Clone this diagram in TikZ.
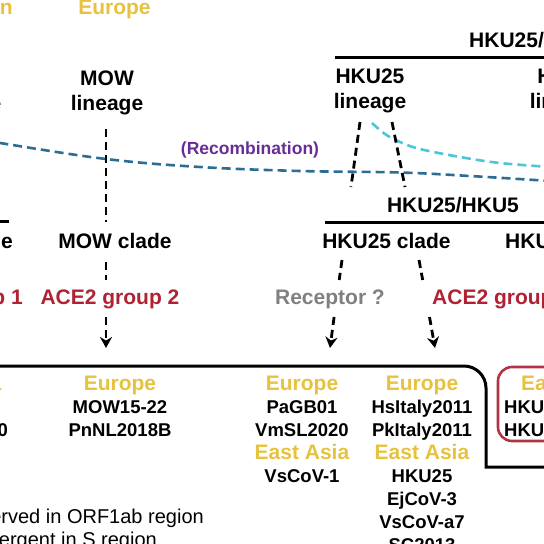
\documentclass[tikz,border=0pt]{standalone}
\usepackage{fontspec}
\setmainfont{Liberation Sans}
\usetikzlibrary{arrows.meta}
\definecolor{ey}{RGB}{230,194,62}
\definecolor{acered}{RGB}{176,34,50}
\definecolor{recpurp}{RGB}{104,44,150}
\definecolor{recdark}{RGB}{45,108,148}
\definecolor{reccyan}{RGB}{78,196,216}
\definecolor{recgray}{RGB}{128,128,128}
\definecolor{boxred}{RGB}{176,52,72}
\tikzset{
  lbl/.style={font=\fontsize{21}{25}\selectfont\bfseries, inner sep=0pt, align=center},
  reg/.style={font=\fontsize{21}{23}\selectfont\bfseries, text=ey, inner sep=0pt},
  item/.style={font=\fontsize{18.5}{23}\selectfont\bfseries, inner sep=0pt},
  ace/.style={lbl, text=acered},
  bar/.style={line width=3pt},
  dsh/.style={line width=2.8pt, dash pattern=on 8pt off 5pt},
  arr/.style={dsh, -{Stealth[length=11pt,width=12pt,inset=3.5pt]}},
  rec/.style={line width=2.6pt, dash pattern=on 9pt off 5pt},
  legtxt/.style={font=\fontsize{20}{23}\selectfont, inner sep=0pt},
}
\begin{document}
\begin{tikzpicture}[x=1pt,y=-1pt]
\useasboundingbox (0,0) rectangle (544,544);
\clip (0,0) rectangle (544,544);

% recombination curves
\draw[rec, recdark] plot[smooth, tension=0.6] coordinates {(-10,141) (0,143) (106,159) (200,167) (300,171) (400,172.5) (470,176) (550,181)};
\draw[rec, reccyan] plot[smooth, tension=0.6] coordinates {(372,123) (385,134) (400,142) (420,149) (460,157) (500,163) (550,167)};
\node[font=\fontsize{17.5}{20}\selectfont\bfseries, text=recpurp, inner sep=0pt] (recomb) at (250,150) {(Recombination)};

% top labels
\node[reg, anchor=base east] (toplft) at (13,14) {African};
\node[reg, anchor=base] (topeur) at (114.5,14) {Europe};
\node[lbl, anchor=base west] (toph) at (469,47) {HKU25/HKU5};
\coordinate (tb1) at (335,57);
\coordinate (tb2) at (560,57);
\draw[bar] (tb1) -- (tb2);

% lineages
\node[lbl] (merslin) at (-35,93) {MERS\\lineage};
\node[lbl] (mowlin) at (107,93) {MOW\\lineage};
\node[lbl] (h25lin) at (370,91) {HKU25\\lineage};
\node[lbl] (h5lin) at (566,91) {HKU5\\lineage};

% middle label and bars
\node[lbl, anchor=base] (midh) at (453,212) {HKU25/HKU5};
\coordinate (mb1) at (325,222);
\coordinate (mb2) at (560,222);
\draw[bar] (mb1) -- (mb2);
\coordinate (lb1) at (-100,221);
\coordinate (lb2) at (9,221);
\draw[bar] (lb1) -- (lb2);

% clades
\node[lbl, anchor=base east] (neoclade) at (13,248) {NeoCoV clade};
\node[lbl, anchor=base] (mowclade) at (115,248) {MOW clade};
\node[lbl, anchor=base] (h25clade) at (386.5,248) {HKU25 clade};
\node[lbl, anchor=base west] (h5clade) at (505,248) {HKU5 clade};

% receptor row
\node[ace, anchor=base east] (g1) at (23,304) {ACE2 group 1};
\node[ace, anchor=base] (g2) at (110,304) {ACE2 group 2};
\node[lbl, text=recgray, anchor=base] (rq) at (330,304) {Receptor ?};
\node[ace, anchor=base west] (g3) at (432,304) {ACE2 group 3};

% dashed connectors
\coordinate (m1) at (106,129); \coordinate (m2) at (106,222);
\coordinate (m3) at (106,262); \coordinate (m4) at (106,280);
\coordinate (m5) at (106,317); \coordinate (m6) at (106,348);
\draw[dsh] (m1) -- (m2);
\draw[dsh] (m3) -- (m4);
\draw[arr] (m5) -- (m6);

\coordinate (ha1) at (360,122); \coordinate (ha2) at (351,187);
\coordinate (hb1) at (392,122); \coordinate (hb2) at (405,187);
\draw[dsh] (ha1) -- (ha2);
\draw[dsh] (hb1) -- (hb2);

\coordinate (ca1) at (342,260); \coordinate (ca2) at (339.2,280);
\coordinate (ca3) at (334.1,317); \coordinate (ca4) at (330,348);
\draw[dsh] (ca1) -- (ca2);
\draw[arr] (ca3) -- (ca4);
\coordinate (cb1) at (419,260); \coordinate (cb2) at (422.7,280);
\coordinate (cb3) at (429.5,317); \coordinate (cb4) at (435,348);
\draw[dsh] (cb1) -- (cb2);
\draw[arr] (cb3) -- (cb4);

% big box outline
\coordinate (bx1) at (-10,366);
\coordinate (bx2) at (464,366);
\coordinate (bx3) at (486,388);
\coordinate (bx4) at (486,467);
\coordinate (bx5) at (560,467);
\draw[line width=3pt] (bx1) -- (bx2) .. controls (476.1,366) and (486,375.9) .. (bx3) -- (bx4) -- (bx5);

% red box
\draw[boxred, line width=2.6pt, rounded corners=14pt] (498,367) rectangle (620,441);

% bottom lists
\node[reg, anchor=base east] (afr) at (1.5,390) {Africa};
\node[item, anchor=base east] (pdf) at (8,436.5) {PDF-2180};

\node[reg, anchor=base] (eur1) at (120,390) {Europe};
\node[item, anchor=base] (mow1) at (120,413.5) {MOW15-22};
\node[item, anchor=base] (mow2) at (120,436.5) {PnNL2018B};

\node[reg, anchor=base] (eur2) at (302,390) {Europe};
\node[item, anchor=base] (pa) at (302,413.5) {PaGB01};
\node[item, anchor=base] (vm) at (302,436.5) {VmSL2020};
\node[reg, anchor=base] (ea2) at (302,459.5) {East Asia};
\node[item, anchor=base] (vs1) at (302,482.5) {VsCoV-1};

\node[reg, anchor=base] (eur3) at (422,390) {Europe};
\node[item, anchor=base] (hs) at (422,413.5) {HsItaly2011};
\node[item, anchor=base] (pk) at (422,436.5) {PkItaly2011};
\node[reg, anchor=base] (ea3) at (422,459.5) {East Asia};
\node[item, anchor=base] (hku25) at (422,482.5) {HKU25};
\node[item, anchor=base] (ej) at (422,505.5) {EjCoV-3};
\node[item, anchor=base] (vsa7) at (422,528.5) {VsCoV-a7};
\node[item, anchor=base] (sc) at (422,551.5) {SC2013};

\node[reg, anchor=base west] (ea4) at (521,390) {East Asia};
\node[item, anchor=base west] (h51) at (504,413.5) {HKU5-1};
\node[item, anchor=base west] (h52) at (504,436.5) {HKU5-2};

% legend text
\node[legtxt, anchor=base east] (leg1) at (204,523) {Conserved in ORF1ab region};
\node[legtxt, anchor=base east] (leg2) at (157,546) {Divergent in S region};
\end{tikzpicture}
\end{document}
